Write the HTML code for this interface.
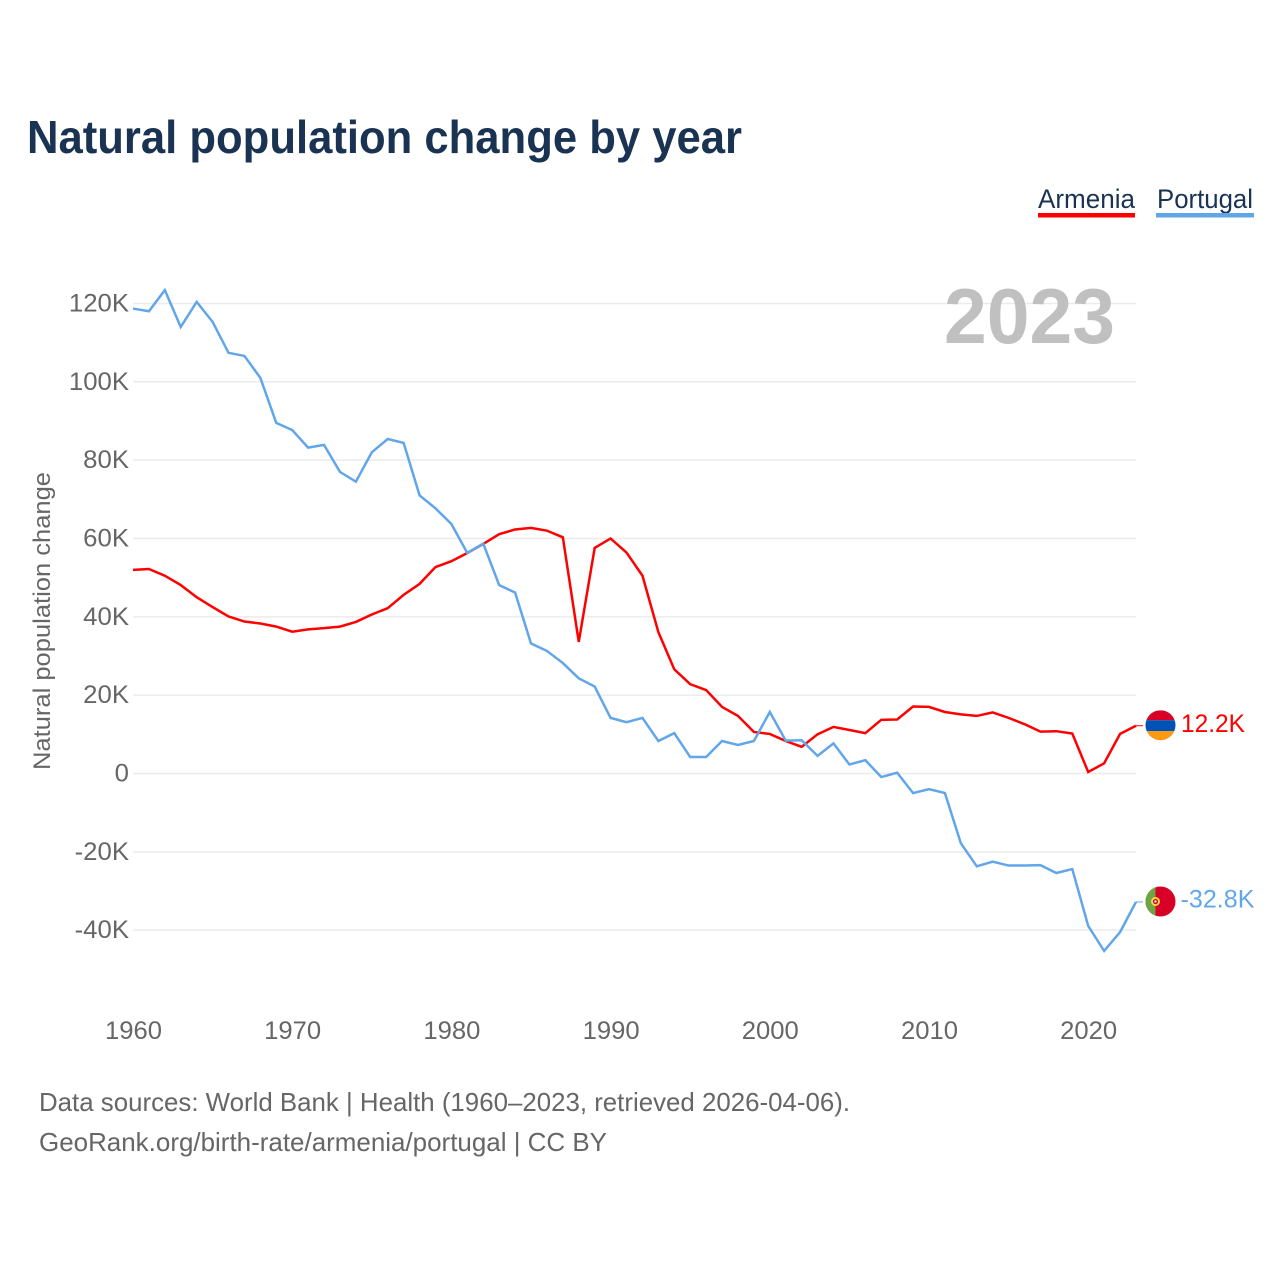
<!DOCTYPE html>
<html lang="en">
<head>
<meta charset="utf-8">
<title>Natural population change by year</title>
<style>
  html, body { margin: 0; padding: 0; background: #fff; }
  svg { display: block; font-family: "Liberation Sans", sans-serif; }
</style>
</head>
<body>
<svg id="chart" width="1280" height="1280" viewBox="0 0 1280 1280" xmlns="http://www.w3.org/2000/svg">
  <defs>
    <clipPath id="flag-clip"><circle cx="0" cy="0" r="15"/></clipPath>
  </defs>
  <rect x="0" y="0" width="1280" height="1280" fill="#ffffff"/>
  <text x="27" y="153" font-size="46" font-weight="700" fill="#1a3353" textLength="715" lengthAdjust="spacingAndGlyphs">Natural population change by year</text>

  <g>
    <text x="1038" y="208" font-size="27" fill="#1a3353" textLength="97" lengthAdjust="spacingAndGlyphs">Armenia</text>
    <rect x="1038" y="213" width="97" height="4.5" fill="#ff0000"/>
  </g>
  <g>
    <text x="1157" y="208" font-size="27" fill="#1a3353" textLength="96" lengthAdjust="spacingAndGlyphs">Portugal</text>
    <rect x="1156" y="213" width="98" height="4.5" fill="#62a6ea"/>
  </g>

  <g id="grid"></g>
  <text x="1115" y="343" font-size="78" font-weight="700" fill="#c0c0c0" text-anchor="end" textLength="171" lengthAdjust="spacingAndGlyphs">2023</text>
  <g id="y-ticks"></g>
  <g id="x-ticks"></g>
  <text transform="translate(50 621) rotate(-90)" font-size="24" fill="#666666" text-anchor="middle" textLength="298" lengthAdjust="spacingAndGlyphs">Natural population change</text>
  <g id="series"></g>

  <g id="armenia-marker">
    <g clip-path="url(#flag-clip)">
      <rect x="-15" y="-15" width="30" height="10" fill="#d80027"/>
      <rect x="-15" y="-5" width="30" height="11" fill="#0052b4"/>
      <rect x="-15" y="6" width="30" height="10" fill="#ff9811"/>
    </g>
    <text id="armenia-value" x="20.5" y="7" font-size="25" fill="#ff0000" textLength="64" lengthAdjust="spacingAndGlyphs"></text>
  </g>
  <g id="portugal-marker">
    <g clip-path="url(#flag-clip)">
      <rect x="-15" y="-15" width="30" height="30" fill="#d80027"/>
      <rect x="-15" y="-15" width="10" height="30" fill="#6da544"/>
      <circle cx="-5" cy="0" r="4.5" fill="#ffda44"/>
      <circle cx="-5" cy="0" r="2.6" fill="#d80027"/>
      <circle cx="-5" cy="0" r="1.2" fill="#f0f0f0"/>
    </g>
    <text id="portugal-value" x="20" y="6" font-size="25" fill="#62a6ea" textLength="74" lengthAdjust="spacingAndGlyphs"></text>
  </g>

  <text x="39" y="1111" font-size="26" fill="#666666" textLength="811" lengthAdjust="spacingAndGlyphs">Data sources: World Bank | Health (1960–2023, retrieved 2026-04-06).</text>
  <text x="39" y="1151" font-size="26" fill="#666666" textLength="568" lengthAdjust="spacingAndGlyphs">GeoRank.org/birth-rate/armenia/portugal | CC BY</text>
</svg>

<script>
const years = [1960,1961,1962,1963,1964,1965,1966,1967,1968,1969,1970,1971,1972,1973,1974,1975,1976,1977,1978,1979,1980,1981,1982,1983,1984,1985,1986,1987,1988,1989,1990,1991,1992,1993,1994,1995,1996,1997,1998,1999,2000,2001,2002,2003,2004,2005,2006,2007,2008,2009,2010,2011,2012,2013,2014,2015,2016,2017,2018,2019,2020,2021,2022,2023];
const armeniaValues = [52,52.2,50.5,48.1,45,42.5,40.1,38.8,38.3,37.5,36.2,36.8,37.1,37.5,38.7,40.6,42.2,45.6,48.4,52.7,54.2,56.3,58.6,61.1,62.3,62.7,62,60.3,33.6,57.6,60,56.4,50.5,36.1,26.6,22.8,21.3,17,14.7,10.6,10.1,8.3,6.8,10,11.9,11.1,10.3,13.7,13.8,17.1,17,15.7,15.1,14.7,15.6,14.2,12.6,10.7,10.8,10.2,0.4,2.6,10.1,12.2];
const portugalValues = [118.7,118,123.4,114,120.4,115.3,107.4,106.6,101,89.5,87.7,83.2,83.9,77,74.5,82,85.4,84.4,71,67.7,63.7,56.3,58.7,48.1,46.2,33.2,31.3,28.2,24.3,22.2,14.2,13.1,14.2,8.3,10.3,4.2,4.2,8.3,7.3,8.3,15.7,8.4,8.5,4.5,7.7,2.3,3.4,-0.9,0.2,-5,-4,-5,-17.8,-23.7,-22.5,-23.5,-23.5,-23.4,-25.4,-24.4,-38.9,-45.3,-40.5,-32.8];
const yTickValues = [120,100,80,60,40,20,0,-20,-40];
const yTickLabels = ["120K","100K","80K","60K","40K","20K","0","-20K","-40K"];
const xTickValues = [1960,1970,1980,1990,2000,2010,2020];

const SVG_NS = "http://www.w3.org/2000/svg";
const xScale = function (year) { return 133 + (year - 1960) * 15.92; };
const yScale = function (value) { return 773.5 - value * 3.917; };

const gridLayer = document.getElementById("grid");
const yLayer = document.getElementById("y-ticks");
const xLayer = document.getElementById("x-ticks");
const seriesLayer = document.getElementById("series");

yTickValues.forEach(function (value, i) {
  const rule = document.createElementNS(SVG_NS, "line");
  
  
  rule.setAttribute("x1", 133);
  rule.setAttribute("x2", 1136);
  rule.setAttribute("y1", yScale(value));
  rule.setAttribute("y2", yScale(value));
  rule.setAttribute("stroke", "#ebebeb");
  rule.setAttribute("stroke-width", 1.5);
  gridLayer.appendChild(rule);

  const label = document.createElementNS(SVG_NS, "text");
  
  
  label.setAttribute("x", 129);
  label.setAttribute("y", yScale(value) + 8);
  label.setAttribute("text-anchor", "end");
  label.setAttribute("font-size", 25);
  label.setAttribute("fill", "#666666");
  label.textContent = yTickLabels[i];
  yLayer.appendChild(label);
  label.setAttribute("textLength", (label.getComputedTextLength() * 1.03).toFixed(1));
  label.setAttribute("lengthAdjust", "spacingAndGlyphs");
});

xTickValues.forEach(function (year) {
  const label = document.createElementNS(SVG_NS, "text");
  
  
  label.setAttribute("x", xScale(year) + 0.5);
  label.setAttribute("y", 1039);
  label.setAttribute("text-anchor", "middle");
  label.setAttribute("font-size", 25);
  label.setAttribute("fill", "#666666");
  label.setAttribute("textLength", 57);
  label.setAttribute("lengthAdjust", "spacingAndGlyphs");
  label.textContent = String(year);
  xLayer.appendChild(label);
});

function linePath(values) {
  return values.map(function (value, i) {
    return (i === 0 ? "M" : "L") + xScale(years[i]).toFixed(2) + " " + yScale(value).toFixed(2);
  }).join(" ");
}

const armeniaLine = document.createElementNS(SVG_NS, "path");


armeniaLine.setAttribute("d", linePath(armeniaValues));
armeniaLine.setAttribute("fill", "none");
armeniaLine.setAttribute("stroke", "#ff0000");
armeniaLine.setAttribute("stroke-width", 2.5);
armeniaLine.setAttribute("stroke-linejoin", "miter");
seriesLayer.appendChild(armeniaLine);

const portugalLine = document.createElementNS(SVG_NS, "path");


portugalLine.setAttribute("d", linePath(portugalValues));
portugalLine.setAttribute("fill", "none");
portugalLine.setAttribute("stroke", "#62a6ea");
portugalLine.setAttribute("stroke-width", 2.5);
portugalLine.setAttribute("stroke-linejoin", "miter");
seriesLayer.appendChild(portugalLine);

const lastArmenia = armeniaValues[armeniaValues.length - 1];
const lastPortugal = portugalValues[portugalValues.length - 1];
const lastX = xScale(years[years.length - 1]);

const armeniaLeader = document.createElementNS(SVG_NS, "line");


armeniaLeader.setAttribute("x1", lastX);
armeniaLeader.setAttribute("x2", lastX + 7);
armeniaLeader.setAttribute("y1", yScale(lastArmenia));
armeniaLeader.setAttribute("y2", yScale(lastArmenia));
armeniaLeader.setAttribute("stroke", "#ff0000");
armeniaLeader.setAttribute("stroke-width", 1);
seriesLayer.appendChild(armeniaLeader);

const portugalLeader = document.createElementNS(SVG_NS, "line");


portugalLeader.setAttribute("x1", lastX);
portugalLeader.setAttribute("x2", lastX + 7);
portugalLeader.setAttribute("y1", yScale(lastPortugal));
portugalLeader.setAttribute("y2", yScale(lastPortugal));
portugalLeader.setAttribute("stroke", "#62a6ea");
portugalLeader.setAttribute("stroke-width", 1);
seriesLayer.appendChild(portugalLeader);

document.getElementById("armenia-marker").setAttribute("transform", "translate(1160.5 " + (yScale(lastArmenia) - 0.5) + ")");
document.getElementById("portugal-marker").setAttribute("transform", "translate(1160.5 " + (yScale(lastPortugal) - 0.5) + ")");
document.getElementById("armenia-value").textContent = lastArmenia.toFixed(1) + "K";
document.getElementById("portugal-value").textContent = lastPortugal.toFixed(1) + "K";
</script>
</body>
</html>
